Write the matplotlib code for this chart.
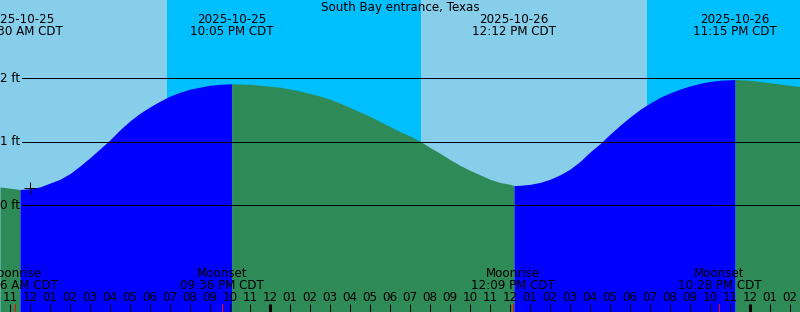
import numpy as np
import matplotlib
matplotlib.use("Agg")
import matplotlib.pyplot as plt

# hours since 2025-10-25 00:00 CDT, tide level in ft
hours = [10.5, 11.0, 11.5, 12.0, 12.5, 13.0, 13.5, 14.0, 14.5, 15.0, 15.5, 16.0,
         16.5, 17.0, 17.5, 18.0, 18.5, 19.0, 19.5, 20.0, 20.5, 21.0, 21.5, 22.083,
         22.5, 23.0, 23.5, 24.0, 24.5, 25.0, 25.5, 26.0, 26.5, 27.0, 27.5, 28.0,
         28.5, 29.0, 29.5, 30.0, 30.5, 31.0, 31.5, 32.0, 32.5, 33.0, 33.5, 34.0,
         34.5, 35.0, 35.5, 36.0, 36.2, 36.5, 37.0, 37.5, 38.0, 38.5, 39.0, 39.5,
         40.0, 40.5, 41.0, 41.5, 42.0, 42.5, 43.0, 43.5, 44.0, 44.5, 45.0, 45.5,
         46.0, 46.5, 47.25, 48.0, 48.5, 49.0, 49.5, 50.0, 50.5]
level = [0.29, 0.27, 0.25, 0.26, 0.29, 0.35, 0.41, 0.50, 0.62, 0.75, 0.89, 1.03,
         1.19, 1.33, 1.45, 1.55, 1.64, 1.72, 1.78, 1.83, 1.86, 1.89, 1.905, 1.915,
         1.91, 1.905, 1.89, 1.875, 1.86, 1.83, 1.80, 1.76, 1.72, 1.67, 1.61, 1.54,
         1.47, 1.40, 1.32, 1.24, 1.16, 1.09, 1.01, 0.91, 0.82, 0.72, 0.63, 0.55,
         0.48, 0.41, 0.36, 0.33, 0.31, 0.315, 0.33, 0.36, 0.41, 0.48, 0.57, 0.69,
         0.84, 0.97, 1.12, 1.26, 1.39, 1.51, 1.61, 1.70, 1.77, 1.83, 1.88, 1.92,
         1.95, 1.97, 1.98, 1.97, 1.95, 1.93, 1.91, 1.89, 1.87]

# tide extremes
ext_hours = [11.5, 22.083, 36.2, 47.25]
ext_dates = ["2025-10-25", "2025-10-25", "2025-10-26", "2025-10-26"]
ext_times = ["11:30 AM CDT", "10:05 PM CDT", "12:12 PM CDT", "11:15 PM CDT"]

# sun: daytime spans
day_spans = [(10.5, 18.85), (31.55, 42.85)]

# moon events
moon_hours = [11.267, 21.6, 36.15, 46.467]
moon_names = ["Moonrise", "Moonset", "Moonrise", "Moonset"]
moon_times = ["11:16 AM CDT", "09:36 PM CDT", "12:09 PM CDT", "10:28 PM CDT"]

now_hour = 12.0
now_level = 0.27

W, H = 800, 312
t0, t1 = 10.5, 50.5
y_top = 205.3 / 63.5
y_bot = -(H - 205.3) / 63.5

plt.rcParams['font.family'] = ['DejaVu Sans']
fig = plt.figure(figsize=(W / 100, H / 100), dpi=100)
ax = fig.add_axes([0, 0, 1, 1])
ax.set_xlim(t0, t1)
ax.set_ylim(y_bot, y_top)
ax.axis("off")

# night background, then day spans
ax.axvspan(t0, t1, color="#00BFFF", lw=0)
for a, b in day_spans:
    ax.axvspan(a, b, color="#87CEEB", lw=0)

t = np.array(hours)
lv = np.array(level)
bounds = [t0] + ext_hours + [t1]
for i in range(len(bounds) - 1):
    a, b = bounds[i], bounds[i + 1]
    m = (t >= a) & (t <= b)
    rising = lv[m][-1] > lv[m][0]
    ax.fill_between(t[m], y_bot, lv[m], color="#0000FF" if rising else "#2E8B57",
                    lw=0, zorder=2)

px = 0.72
fs = 8.6
xt = ax.get_xaxis_transform()

# level lines
for v in [0, 1, 2]:
    ax.plot([t0 + 22 / 20, t1], [v, v], color="black", lw=px, zorder=3)
    fig.text(20 / W, (H - (205.3 - v * 63.5)) / H, f"{v} ft", ha="right",
             va="center", fontsize=fs)

ax.plot(now_hour, now_level, marker="+", color="black", ms=9, mew=px, zorder=4)

fig.text(0.5, 1 - 7.5 / H, "South Bay entrance, Texas", ha="center", va="center",
         fontsize=fs)
for h, d, s in zip(ext_hours, ext_dates, ext_times):
    ax.text(h, 1 - 19.5 / H, d, transform=xt, ha="center", va="center", fontsize=fs)
    ax.text(h, 1 - 31.5 / H, s, transform=xt, ha="center", va="center", fontsize=fs)

for h, n, s in zip(moon_hours, moon_names, moon_times):
    ax.text(h, 1 - 273.5 / H, n, transform=xt, ha="center", va="center",
            fontsize=fs, zorder=5)
    ax.text(h, 1 - 285.5 / H, s, transform=xt, ha="center", va="center",
            fontsize=fs, zorder=5)
    ax.plot([h, h], [0, 8 / H], transform=xt, color="red", lw=px, zorder=5)

# hour ticks and labels
for hh in range(11, 51):
    lab = f"{(hh % 12) or 12:02d}"
    ax.text(hh, 1 - 297.5 / H, lab, transform=xt, ha="center", va="center",
            fontsize=fs, zorder=5)
    lw = 3 * px if hh % 24 == 0 else px
    ax.plot([hh, hh], [0, 8 / H], transform=xt, color="black", lw=lw,
            solid_capstyle="butt", zorder=5)

fig.savefig("out.png", dpi=100)
